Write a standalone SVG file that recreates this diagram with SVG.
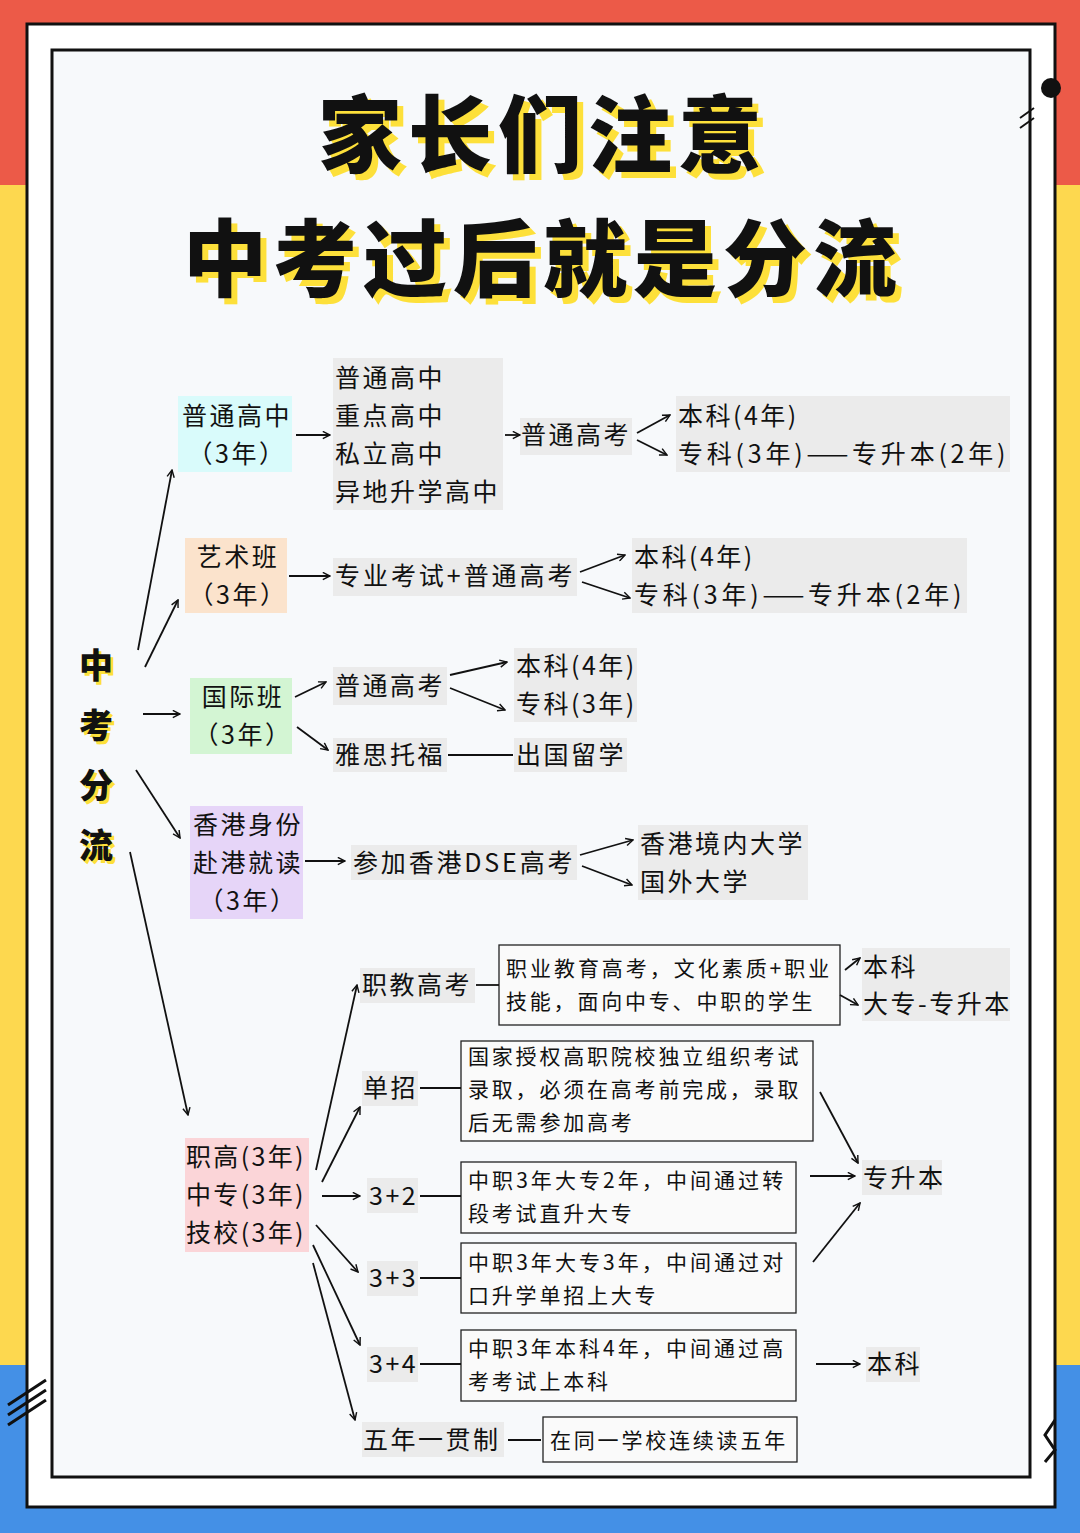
<svg xmlns="http://www.w3.org/2000/svg" width="1080" height="1533" viewBox="0 0 1080 1533">
<defs>
<marker id="ah" viewBox="0 0 10 10" refX="9" refY="5" markerWidth="9" markerHeight="9" markerUnits="userSpaceOnUse" orient="auto"><path d="M1,1 L9,5 L1,9" fill="none" stroke="#111" stroke-width="1.6"/></marker>
<style>
text{font-family:"Noto Sans CJK SC","Noto Sans",sans-serif;fill:#111}
.n{font-size:25px;text-anchor:middle;letter-spacing:2.5px}
.l{font-size:25px;letter-spacing:2.5px}
.b{font-size:21px;letter-spacing:2.8px}
.g{fill:#ebebeb}
.bx{fill:#fafafa;stroke:#222;stroke-width:1.3}
.c line,.c path{stroke:#111;stroke-width:1.8;fill:none}
.a{marker-end:url(#ah)}
.t{font-size:84px;font-weight:900;text-anchor:middle;letter-spacing:6px}
.y{fill:#fde03a}
.v{font-size:34px;font-weight:900;text-anchor:middle}
</style>
</defs>
<rect width="1080" height="185" fill="#ec5a48"/>
<rect y="185" width="1080" height="1180" fill="#fdd84f"/>
<rect y="1365" width="1080" height="168" fill="#4490e6"/>
<rect x="27" y="24" width="1028" height="1483" fill="#fff" stroke="#111" stroke-width="3"/>
<rect x="52" y="50" width="978" height="1427" fill="#f7f9fb" stroke="#111" stroke-width="3"/>
<circle cx="1051" cy="88" r="10" fill="#111"/>
<path d="M1020,118 L1034,108 M1020,128 L1034,118" stroke="#111" stroke-width="2" fill="none"/>
<path d="M8,1405 L46,1380 M8,1415 L46,1390 M8,1425 L46,1400" stroke="#111" stroke-width="3" fill="none"/>
<path d="M1055,1420 L1045,1435 L1055,1450 L1045,1462" stroke="#111" stroke-width="3" fill="none"/>
<g id="title">
<text class="t y" x="549" y="172">家长们注意</text>
<text class="t" x="543" y="166">家长们注意</text>
<text class="t y" x="549" y="296">中考过后就是分流</text>
<text class="t" x="543" y="290">中考过后就是分流</text>
</g>
<g id="root">
<text class="v y" x="99" y="681">中</text><text class="v" x="96" y="678">中</text>
<text class="v y" x="99" y="741">考</text><text class="v" x="96" y="738">考</text>
<text class="v y" x="99" y="801">分</text><text class="v" x="96" y="798">分</text>
<text class="v y" x="99" y="861">流</text><text class="v" x="96" y="858">流</text>
</g>
<g id="n1"><rect x="178" y="396" width="114" height="76" fill="#d9fbfb"/><text class="n" x="237" y="425">普通高中</text><text class="n" x="237" y="463">（3年）</text></g>
<g id="n1a"><rect class="g" x="333" y="358" width="170" height="152"/><text class="l" x="335" y="387">普通高中</text><text class="l" x="335" y="425">重点高中</text><text class="l" x="335" y="463">私立高中</text><text class="l" x="335" y="501">异地升学高中</text></g>
<g id="n1b"><rect class="g" x="520" y="418" width="112" height="37"/><text class="l" x="521" y="444">普通高考</text></g>
<g id="n1c"><rect class="g" x="676" y="396" width="334" height="76"/><text class="l" x="678" y="425">本科(4年)</text><text class="l" x="678" y="463" textLength="330">专科(3年)——专升本(2年)</text></g>
<g id="n2"><rect x="185" y="538" width="102" height="75" fill="#fbe3cc"/><text class="n" x="238" y="566">艺术班</text><text class="n" x="238" y="604">（3年）</text></g>
<g id="n2a"><rect class="g" x="333" y="558" width="244" height="38"/><text class="l" x="335" y="585" textLength="240">专业考试+普通高考</text></g>
<g id="n2b"><rect class="g" x="632" y="538" width="335" height="75"/><text class="l" x="634" y="566">本科(4年)</text><text class="l" x="634" y="604" textLength="330">专科(3年)——专升本(2年)</text></g>
<g id="n3"><rect x="190" y="678" width="102" height="76" fill="#d3f5d3"/><text class="n" x="243" y="706">国际班</text><text class="n" x="243" y="744">（3年）</text></g>
<g id="n3a"><rect class="g" x="333" y="667" width="114" height="38"/><text class="l" x="335" y="695">普通高考</text></g>
<g id="n3b"><rect class="g" x="514" y="648" width="123" height="74"/><text class="l" x="516" y="675">本科(4年)</text><text class="l" x="516" y="713">专科(3年)</text></g>
<g id="n3c"><rect class="g" x="333" y="738" width="114" height="34"/><text class="l" x="335" y="764">雅思托福</text></g>
<g id="n3d"><rect class="g" x="514" y="738" width="113" height="34"/><text class="l" x="516" y="764">出国留学</text></g>
<g id="n4"><rect x="190" y="806" width="113" height="113" fill="#e6d5f8"/><text class="n" x="248" y="834">香港身份</text><text class="n" x="248" y="872">赴港就读</text><text class="n" x="248" y="910">（3年）</text></g>
<g id="n4a"><rect class="g" x="351" y="845" width="226" height="35"/><text class="l" x="353" y="872" textLength="222">参加香港DSE高考</text></g>
<g id="n4b"><rect class="g" x="638" y="825" width="170" height="75"/><text class="l" x="640" y="853">香港境内大学</text><text class="l" x="640" y="891">国外大学</text></g>
<g id="n5"><rect x="185" y="1138" width="124" height="114" fill="#fbd5d8"/><text class="l" x="186" y="1166" textLength="120">职高(3年)</text><text class="l" x="186" y="1204" textLength="120">中专(3年)</text><text class="l" x="186" y="1242" textLength="120">技校(3年)</text></g>
<g id="n5a"><rect class="g" x="360" y="968" width="115" height="35"/><text class="l" x="362" y="994">职教高考</text></g>
<g id="n5a1"><rect class="bx" x="499" y="945" width="341" height="80"/><text class="b" x="506" y="976" textLength="326">职业教育高考，文化素质+职业</text><text class="b" x="506" y="1009">技能，面向中专、中职的学生</text></g>
<g id="n5a2"><rect class="g" x="862" y="948" width="148" height="73"/><text class="l" x="863" y="976">本科</text><text class="l" x="863" y="1013">大专-专升本</text></g>
<g id="n5b"><rect class="g" x="362" y="1071" width="56" height="35"/><text class="l" x="363" y="1097">单招</text></g>
<g id="n5b1"><rect class="bx" x="461" y="1041" width="352" height="100"/><text class="b" x="468" y="1064">国家授权高职院校独立组织考试</text><text class="b" x="468" y="1097">录取，必须在高考前完成，录取</text><text class="b" x="468" y="1130">后无需参加高考</text></g>
<g id="n5c"><rect class="g" x="367" y="1178" width="51" height="35"/><text class="l" x="369" y="1205">3+2</text></g>
<g id="n5c1"><rect class="bx" x="461" y="1162" width="335" height="71"/><text class="b" x="468" y="1188" textLength="318">中职3年大专2年，中间通过转</text><text class="b" x="468" y="1221">段考试直升大专</text></g>
<g id="n5d"><rect class="g" x="367" y="1261" width="51" height="35"/><text class="l" x="369" y="1287">3+3</text></g>
<g id="n5d1"><rect class="bx" x="461" y="1243" width="335" height="70"/><text class="b" x="468" y="1270" textLength="318">中职3年大专3年，中间通过对</text><text class="b" x="468" y="1303">口升学单招上大专</text></g>
<g id="n5e"><rect class="g" x="367" y="1347" width="51" height="35"/><text class="l" x="369" y="1373">3+4</text></g>
<g id="n5e1"><rect class="bx" x="461" y="1330" width="335" height="71"/><text class="b" x="468" y="1356" textLength="318">中职3年本科4年，中间通过高</text><text class="b" x="468" y="1389">考考试上本科</text></g>
<g id="n5f"><rect class="g" x="362" y="1422" width="142" height="35"/><text class="l" x="363" y="1449">五年一贯制</text></g>
<g id="n5f1"><rect class="bx" x="543" y="1417" width="254" height="45"/><text class="b" x="550" y="1448">在同一学校连续读五年</text></g>
<g id="n6"><rect class="g" x="862" y="1160" width="80" height="35"/><text class="l" x="863" y="1187">专升本</text></g>
<g id="n7"><rect class="g" x="866" y="1347" width="54" height="35"/><text class="l" x="867" y="1373">本科</text></g>
<g id="connectors" class="c">
<line class="a" x1="138" y1="650" x2="172" y2="470"/>
<line class="a" x1="145" y1="667" x2="178" y2="600"/>
<line class="a" x1="143" y1="714" x2="180" y2="714"/>
<line class="a" x1="136" y1="770" x2="180" y2="838"/>
<line class="a" x1="130" y1="852" x2="188" y2="1115"/>
<line class="a" x1="296" y1="435" x2="330" y2="435"/>
<line class="a" x1="505" y1="435" x2="520" y2="435"/>
<line class="a" x1="637" y1="433" x2="670" y2="415"/>
<line class="a" x1="637" y1="440" x2="667" y2="455"/>
<line class="a" x1="289" y1="576" x2="330" y2="576"/>
<line class="a" x1="580" y1="572" x2="625" y2="555"/>
<line class="a" x1="582" y1="582" x2="630" y2="598"/>
<line class="a" x1="295" y1="697" x2="326" y2="682"/>
<line class="a" x1="297" y1="727" x2="328" y2="750"/>
<line class="a" x1="450" y1="675" x2="507" y2="662"/>
<line class="a" x1="450" y1="688" x2="505" y2="710"/>
<line x1="448" y1="755" x2="513" y2="755"/>
<line class="a" x1="305" y1="861" x2="345" y2="861"/>
<line class="a" x1="580" y1="855" x2="633" y2="840"/>
<line class="a" x1="582" y1="866" x2="632" y2="885"/>
<line class="a" x1="316" y1="1170" x2="357" y2="985"/>
<line class="a" x1="322" y1="1182" x2="360" y2="1107"/>
<line class="a" x1="322" y1="1196" x2="360" y2="1196"/>
<line class="a" x1="316" y1="1225" x2="358" y2="1272"/>
<line class="a" x1="313" y1="1245" x2="360" y2="1345"/>
<line class="a" x1="313" y1="1263" x2="355" y2="1420"/>
<line x1="476" y1="985" x2="499" y2="985"/>
<line class="a" x1="845" y1="970" x2="860" y2="958"/>
<line class="a" x1="840" y1="995" x2="858" y2="1005"/>
<line x1="420" y1="1088" x2="461" y2="1088"/>
<line x1="420" y1="1196" x2="461" y2="1196"/>
<line x1="420" y1="1278" x2="461" y2="1278"/>
<line x1="420" y1="1364" x2="461" y2="1364"/>
<line x1="508" y1="1440" x2="541" y2="1440"/>
<line class="a" x1="820" y1="1092" x2="858" y2="1163"/>
<line class="a" x1="810" y1="1176" x2="855" y2="1176"/>
<line class="a" x1="813" y1="1262" x2="860" y2="1203"/>
<line class="a" x1="816" y1="1364" x2="860" y2="1364"/>
</g>
</svg>
